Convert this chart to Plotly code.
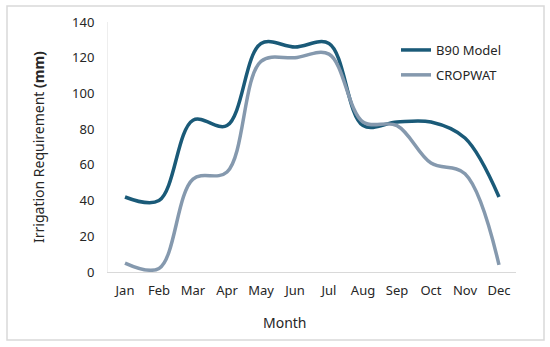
import plotly.graph_objects as go

months = ["Jan", "Feb", "Mar", "Apr", "May", "Jun", "Jul", "Aug", "Sep", "Oct", "Nov", "Dec"]
b90_model = [42, 40, 85, 82, 128, 126, 128, 82, 84, 84, 75, 42]
cropwat = [5, 2, 52, 56, 118, 120, 122, 84, 82, 61, 55, 4]
y_ticks = [0, 20, 40, 60, 80, 100, 120, 140]

FONT = "Noto Sans"
fig = go.Figure()
fig.add_trace(go.Scatter(x=months, y=b90_model, mode="lines", name="B90 Model", legendgroup="a",
                         line=dict(color="#1a5a78", width=3.5, shape="spline", smoothing=1.0)))
fig.add_trace(go.Scatter(x=months, y=cropwat, mode="lines", name="CROPWAT", legendgroup="b",
                         line=dict(color="#8599ae", width=3.5, shape="spline", smoothing=1.0)))

W, H = 550, 347
L, R, T, B = 108, 516, 22, 272
pw, ph = R - L, B - T

def px(x):
    return (x - L) / pw

def py(y):
    return (B - y) / ph

fig.update_layout(
    width=W, height=H,
    margin=dict(l=L, r=W - R, t=T, b=H - B),
    paper_bgcolor="white", plot_bgcolor="white",
    font=dict(family=FONT, color="#262626", size=13),
    showlegend=True,
    legend=dict(x=px(396), y=py(35), xanchor="left", yanchor="top",
                font=dict(size=13, color="#262626"), bgcolor="rgba(0,0,0,0)",
                tracegroupgap=5, itemwidth=30),
    xaxis=dict(range=[-0.5, 11.5], showgrid=False, showline=True, linecolor="#d9d9d9",
               linewidth=1, ticks="", ticklabelstandoff=6, zeroline=False,
               tickfont=dict(size=13, family=FONT)),
    yaxis=dict(range=[0, 140], tickvals=y_ticks, showgrid=False, showline=True,
               linecolor="#eeeeee", linewidth=1, ticks="", ticklabelstandoff=10,
               zeroline=False, tickfont=dict(size=13, family=FONT)),
    shapes=[dict(type="rect", xref="paper", yref="paper",
                 x0=px(7), x1=px(544), y0=py(340), y1=py(6),
                 line=dict(color="#d9d9d9", width=1.5), fillcolor="rgba(0,0,0,0)", layer="below")],
    annotations=[
        dict(text="Irrigation Requirement <b>(mm)</b>", xref="paper", yref="paper",
             x=px(38), y=py(147), textangle=-90, showarrow=False,
             xanchor="center", yanchor="middle", font=dict(size=14, family=FONT, color="#262626")),
        dict(text="Month", xref="paper", yref="paper", x=px(285), y=py(322),
             showarrow=False, xanchor="center", yanchor="middle",
             font=dict(size=14, family=FONT, color="#262626")),
    ],
)
fig.write_html("out.html", config={"displayModeBar": False},
               post_script="document.body.style.margin='0';document.body.style.overflow='hidden';")
